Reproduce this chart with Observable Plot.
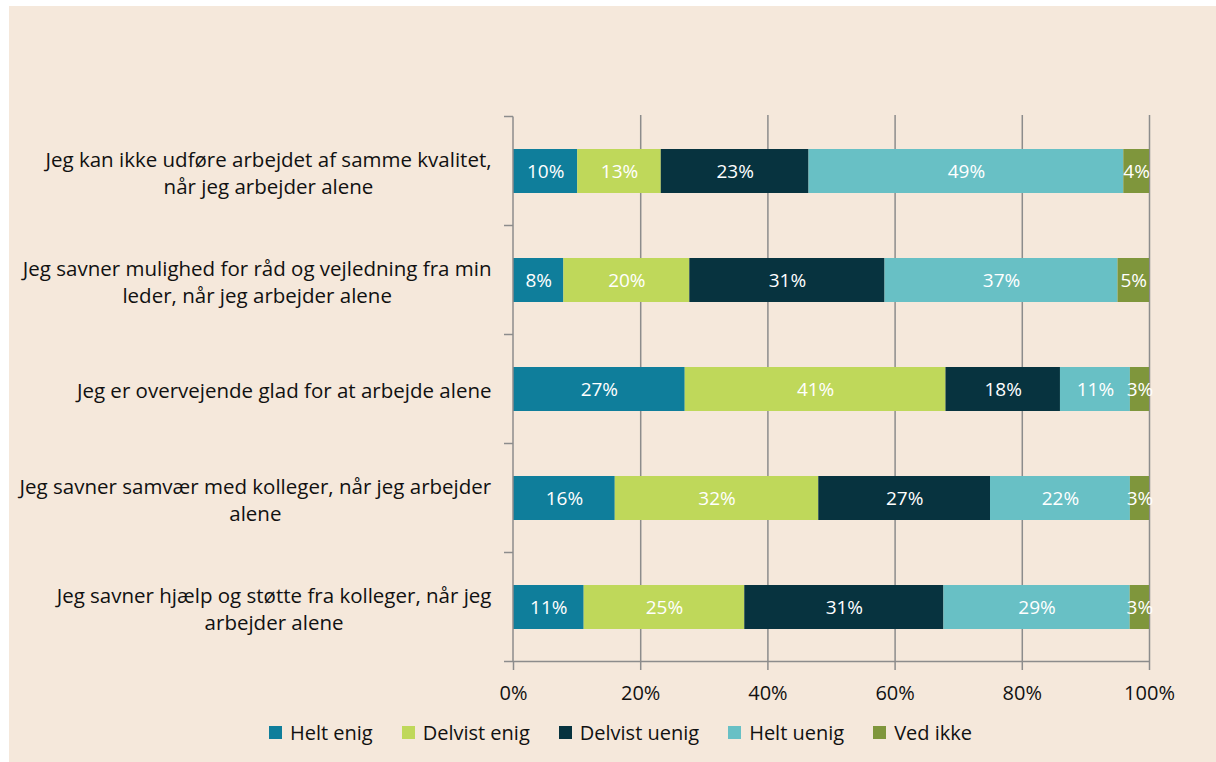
<!DOCTYPE html>
<html>
<head>
<meta charset="utf-8">
<script src="https://cdn.jsdelivr.net/npm/d3@7"></script>
<script src="https://cdn.jsdelivr.net/npm/@observablehq/plot@0.6"></script>
<style>
html, body { margin: 0; padding: 0; background: #ffffff; }
#panel { position: absolute; left: 9px; top: 6px; right: 0; bottom: 0; background: #f5e8db; overflow: hidden; }
#panel svg { display: block; background: transparent; }
#legendWrap { display: flex; justify-content: center; padding-left: 16px; }
.lg-swatches { font-family: "Open Sans", sans-serif !important; font-size: 20px !important; color: #111 !important; margin: 0 !important; }
.lg-swatch { margin-right: 29px !important; }
.lg-swatch:last-child { margin-right: 0 !important; }
.lg-swatch > svg { margin-right: 8px !important; }
</style>
</head>
<body>
<div id="panel"><div id="chart"></div><div id="legendWrap"></div></div>
<script>
// ---- data ----
const questions = [
  "Jeg kan ikke udføre arbejdet af samme kvalitet, når jeg arbejder alene",
  "Jeg savner mulighed for råd og vejledning fra min leder, når jeg arbejder alene",
  "Jeg er overvejende glad for at arbejde alene",
  "Jeg savner samvær med kolleger, når jeg arbejder alene",
  "Jeg savner hjælp og støtte fra kolleger, når jeg arbejder alene"
];
const questionLines = [
  "Jeg kan ikke udføre arbejdet af samme kvalitet,\nnår jeg arbejder alene",
  "Jeg savner mulighed for råd og vejledning fra min\nleder, når jeg arbejder alene",
  "Jeg er overvejende glad for at arbejde alene",
  "Jeg savner samvær med kolleger, når jeg arbejder\nalene",
  "Jeg savner hjælp og støtte fra kolleger, når jeg\narbejder alene"
];
const responses = ["Helt enig", "Delvist enig", "Delvist uenig", "Helt uenig", "Ved ikke"];
const colors = ["#0f7e9b", "#bfd85a", "#07333f", "#68c0c5", "#7f963c"];
const heltEnig     = [10, 8, 27, 16, 11];
const delvistEnig  = [13, 20, 41, 32, 25];
const delvistUenig = [23, 31, 18, 27, 31];
const heltUenig    = [49, 37, 11, 22, 29];
const vedIkke      = [4, 5, 3, 3, 3];
const xTicks = [0, 0.2, 0.4, 0.6, 0.8, 1];
const xTickLabels = ["0%", "20%", "40%", "60%", "80%", "100%"];

const series = [heltEnig, delvistEnig, delvistUenig, heltUenig, vedIkke];
const rows = [];
questions.forEach((q, i) => {
  responses.forEach((r, j) => rows.push({question: q, response: r, value: series[j][i]}));
});

const axisColor = "#8c8c8c";
const fontFamily = "'Open Sans', sans-serif";
const W = 1207, H = 710;

function frameLines(index, scales, values, dims) {
  const {x, y} = scales;
  const n = questions.length;
  const step = y.step();
  const pad = (step - y.bandwidth()) / 2;
  const ys = questions.map(q => y(q) - pad);
  ys.push(ys[n - 1] + step);
  const x0 = x(0), x1 = x(1);
  const g = d3.create("svg:g").attr("stroke", axisColor).attr("stroke-width", 1.5).attr("fill", "none");
  g.selectAll("line.tk").data(ys).join("line").attr("class", "tk")
    .attr("x1", x0 - 9).attr("x2", x0).attr("y1", d => d).attr("y2", d => d);
  g.append("line").attr("x1", x0).attr("x2", x0).attr("y1", ys[0]).attr("y2", ys[n]);
  g.append("line").attr("x1", x0).attr("x2", x1).attr("y1", ys[n]).attr("y2", ys[n]);
  return g.node();
}

const chart = Plot.plot({
  width: W,
  height: H,
  marginLeft: 504,
  marginRight: 67,
  marginTop: 109,
  marginBottom: 54,
  style: {fontFamily, fontSize: "20px", background: "transparent", color: "#111"},
  x: {domain: [0, 1], ticks: xTicks},
  y: {domain: questions, paddingInner: 0.6, paddingOuter: 0.3},
  color: {domain: responses, range: colors},
  marks: [
    Plot.gridX(xTicks.slice(1), {stroke: axisColor, strokeOpacity: 1, strokeWidth: 1.5}),
    Plot.axisX(xTicks, {tickSize: 8, tickPadding: 15, stroke: axisColor, strokeWidth: 1.5, strokeOpacity: 1,
      fontSize: 20, fill: "#111", tickFormat: d => xTickLabels[xTicks.indexOf(d)], label: null}),
    Plot.axisY({tickSize: 0, tickPadding: 21, fontSize: 20.5, lineHeight: 1.32, fill: "#111",
      tickFormat: d => questionLines[questions.indexOf(d)], label: null}),
    Plot.barX(rows, Plot.stackX({x: "value", y: "question", fill: "response", offset: "normalize"})),
    Plot.text(rows, Plot.stackX({x: "value", y: "question", z: "response", offset: "normalize",
      text: d => d.value + "%", fill: "white", fontSize: 19})),
    frameLines
  ]
});

document.getElementById("chart").appendChild(chart);

// center multi-line y labels as a block right-aligned to the axis gap
chart.querySelectorAll('g[aria-label^="y-axis tick label"] text').forEach(t => {
  const w = t.getBBox().width;
  t.setAttribute("text-anchor", "middle");
  t.setAttribute("transform", (t.getAttribute("transform") || "") + ` translate(${-w / 2},0)`);
});

const legend = Plot.legend({
  color: {domain: responses, range: colors},
  legend: "swatches",
  swatchSize: 13,
  className: "lg"
});
document.getElementById("legendWrap").appendChild(legend);
</script>
</body>
</html>
